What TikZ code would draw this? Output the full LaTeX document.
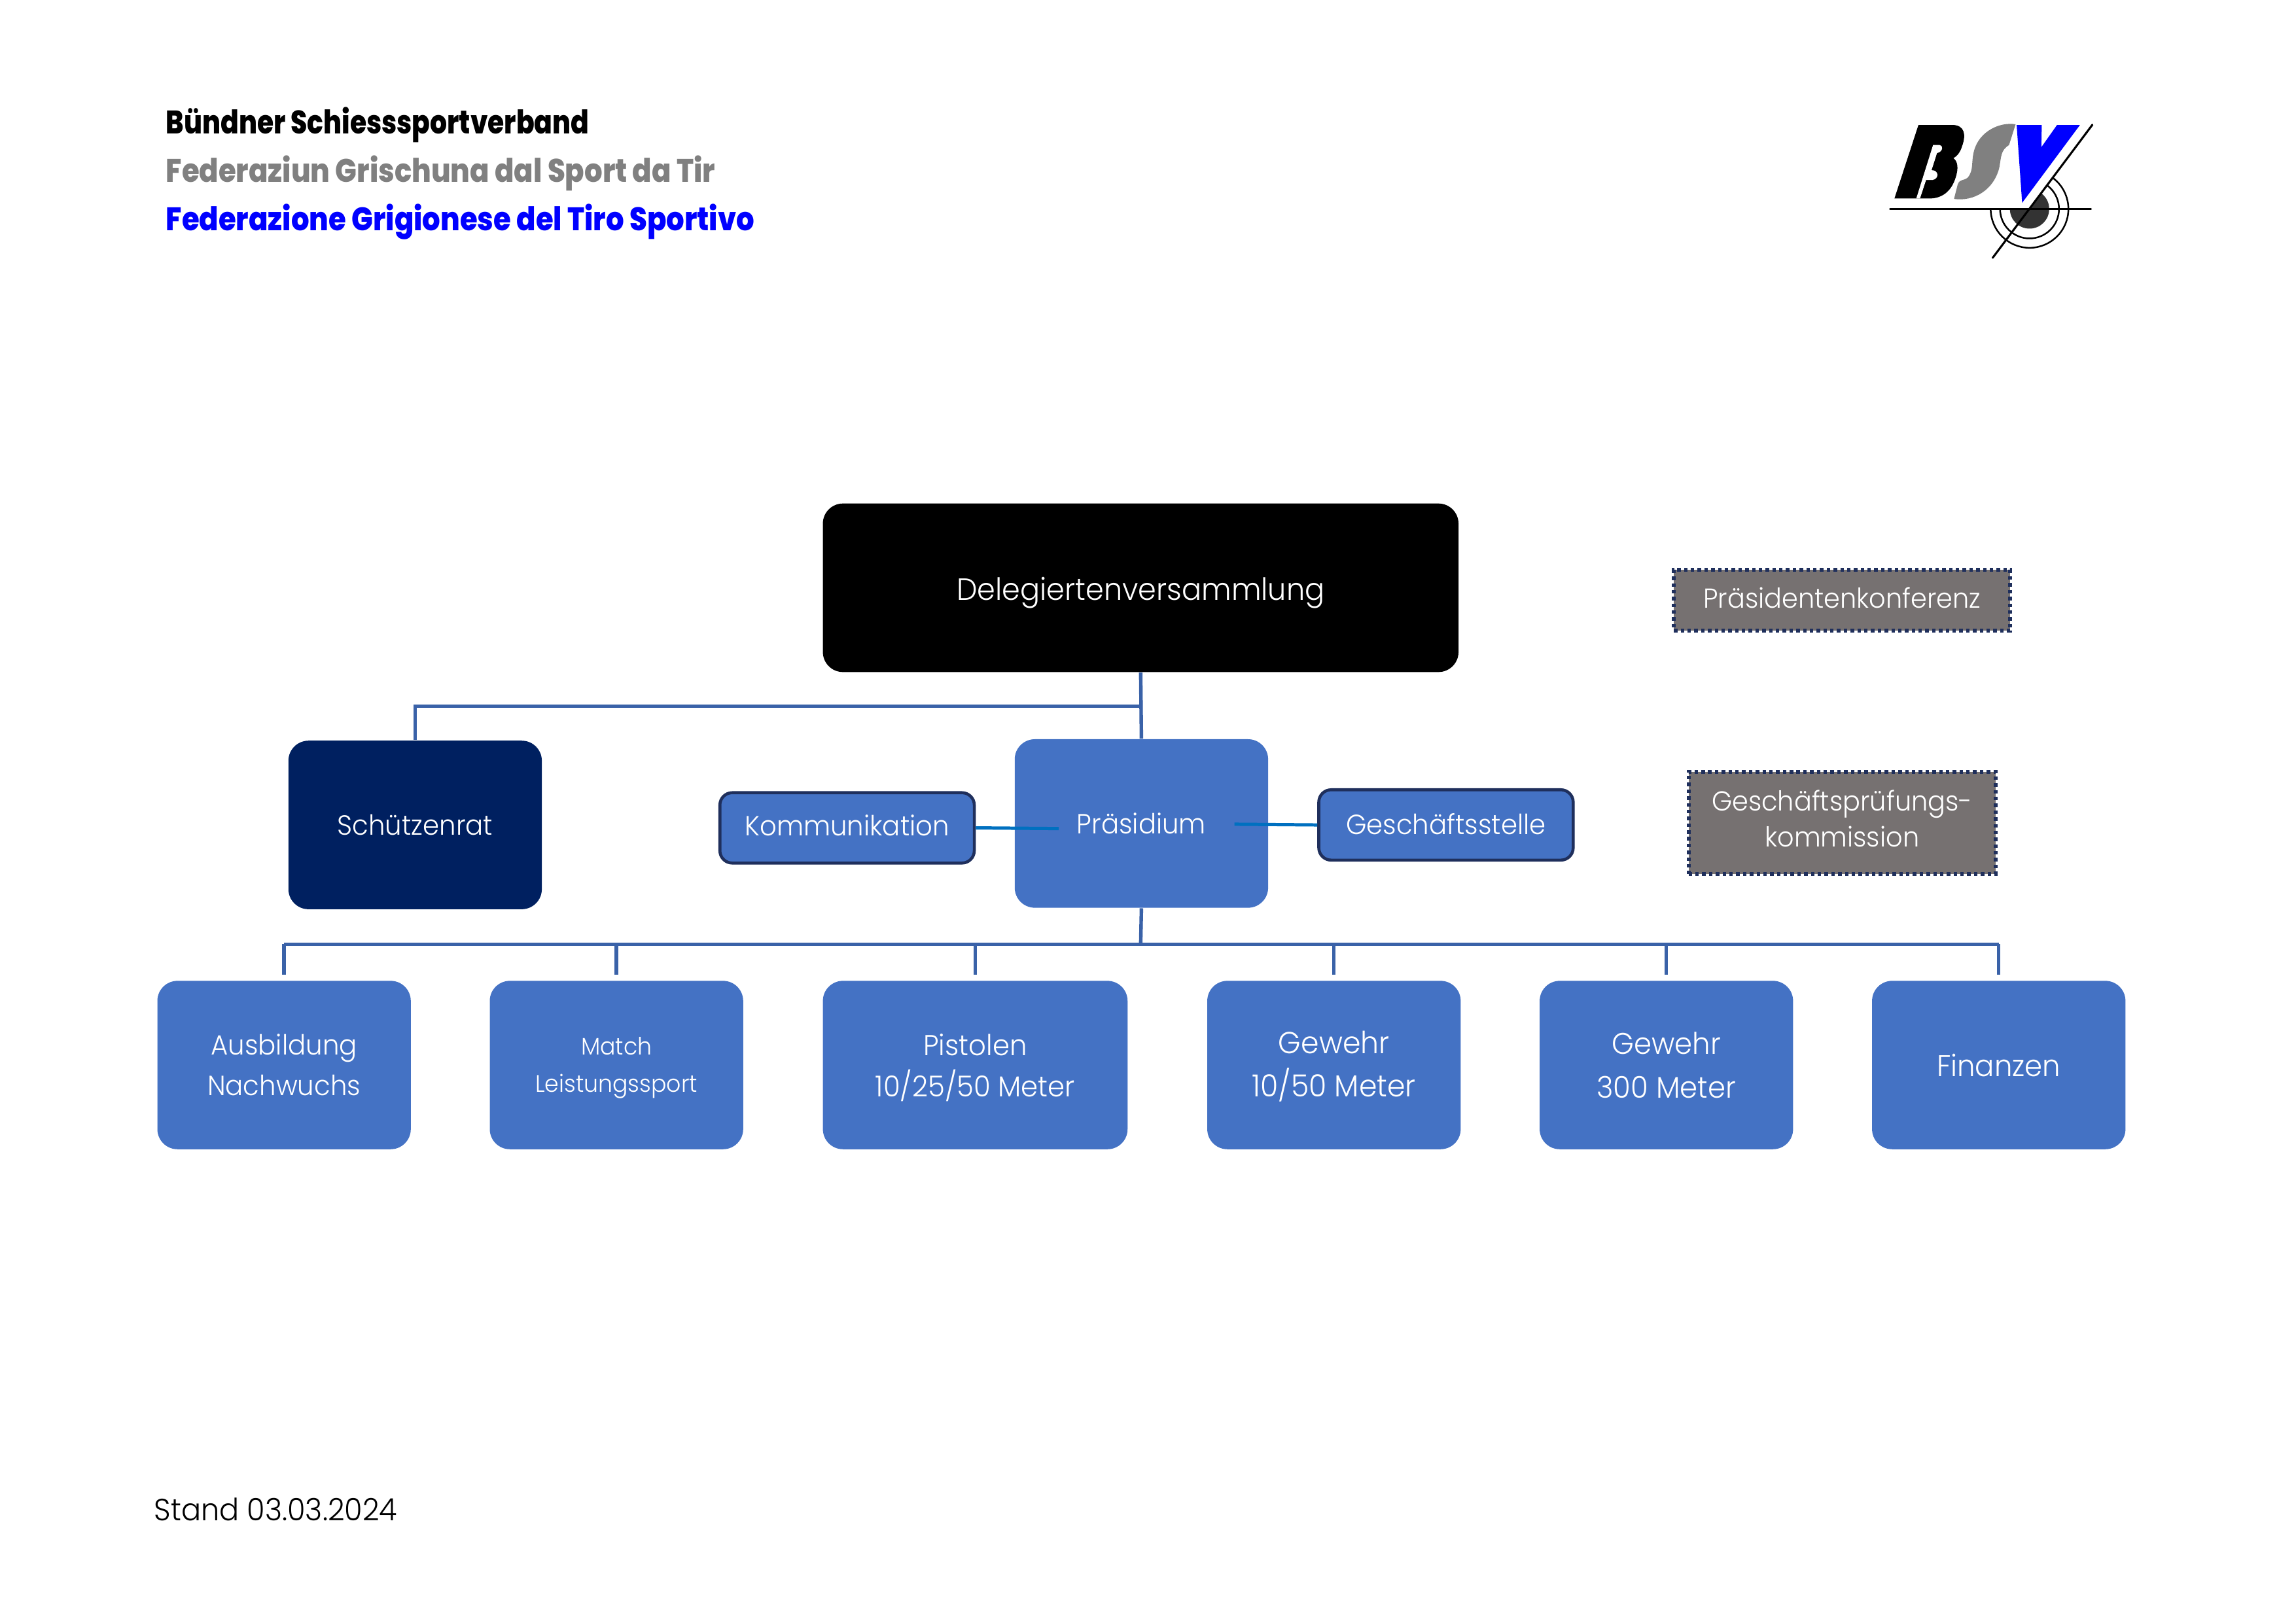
\documentclass[tikz,border=0pt]{standalone}
\usepackage{fontspec}
\setmainfont{Poppins}[UprightFont=* Light,FakeStretch=0.95]
\newfontfamily\headfont{Poppins}[UprightFont=* ExtraBold,FakeStretch=0.87]
\newfontfamily\headnarrow{Poppins}[UprightFont=* ExtraBold,FakeStretch=0.82]
\usetikzlibrary{positioning}

\definecolor{boxblue}{HTML}{4472C4}
\definecolor{navybox}{HTML}{002060}
\definecolor{greybox}{HTML}{767171}
\definecolor{linkblue}{HTML}{3A62A8}
\definecolor{sidelink}{HTML}{0070C0}
\definecolor{edgenavy}{HTML}{1F2F5C}

\begin{document}
\begin{tikzpicture}[x=0.018941cm,y=-0.018941cm,
    main node/.style={draw=none,fill=boxblue,text=white,rounded corners=0.26cm,align=center,inner sep=0pt,font=\fontsize{10.2}{15}\selectfont},
    side node/.style={main node,draw=edgenavy,line width=1.1pt,rounded corners=0.16cm,minimum width=3.29cm,minimum height=0.91cm},
    dot node/.style={main node,fill=greybox,draw=edgenavy,line width=1.4pt,dash pattern=on 1.3pt off 1.2pt,rounded corners=0pt,font=\fontsize{10.1}{13.4}\selectfont},
    unit node/.style={main node,minimum width=3.277cm,minimum height=2.178cm},
    link/.style={draw=linkblue,line width=1.3pt},
    side link/.style={draw=sidelink,line width=1.2pt},
    head/.style={anchor=west,inner sep=0pt,font=\headfont\fontsize{12}{15}\selectfont}]
    \useasboundingbox (0,0) rectangle (1568,1108.6);

    % header
    \node[head,text=black,font=\headnarrow\fontsize{12}{15}\selectfont] (head1) at (113,85.5){Bündner Schiesssportverband};
    \node[head,text=black!50] (head2) at (113,118.5){Federaziun Grischuna dal Sport da Tir};
    \node[head,text=blue] (head3) at (113,151.5){Federazione Grigionese del Tiro Sportivo};

    % logo
    \begin{scope}[shift={(1278.1,71.5)},x=0.002821cm,y=-0.002821cm]
        \fill[black!80] (724,478) circle (90);
        \draw[line width=0.6pt] (724,478) circle (135) (724,478) circle (178);
        \fill[white] (500,478) -- (723,478) -- (860,295) -- (500,295) -- cycle;
        \fill[black] (105,430) -- (215,93) -- (370,93) .. controls (425,93) and (435,135) .. (415,190) .. controls (405,225) and (385,240) .. (375,245) .. controls (395,260) and (400,290) .. (385,335) .. controls (365,400) and (320,430) .. (265,430) -- cycle;
        \fill[white] (205,430) -- (282,185) -- (312,185) .. controls (328,185) and (330,215) .. (300,222) -- (275,300) .. controls (310,300) and (310,340) .. (280,345) -- (250,345) -- (222,430) -- cycle;
        \fill[black!50] (660,90) .. controls (590,78) and (495,120) .. (470,210) .. controls (455,265) and (470,300) .. (440,335) .. controls (420,350) and (405,340) .. (395,365) -- (378,432) .. controls (470,445) and (560,390) .. (585,290) .. controls (595,240) and (590,210) .. (630,185) -- cycle;
        \fill[blue] (665,93) -- (780,93) -- (778,195) -- (850,93) -- (955,93) -- (690,450) -- cycle;
        \draw[line width=0.75pt,line cap=round] (85,478) -- (1005,478);
        \draw[line width=0.75pt,line cap=round] (1012,92) -- (555,702);
    \end{scope}

    % top
    \node[main node,fill=black,minimum width=8.22cm,minimum height=2.18cm,font=\fontsize{11.3}{15}\selectfont,text height=11.6pt,text depth=2.3pt] (dv) at (779,401.5){Delegiertenversammlung};
    \node[main node,fill=navybox,minimum width=3.277cm,minimum height=2.18cm] (rat) at (283.5,563.5){Schützenrat};
    \node[main node,minimum width=3.277cm,minimum height=2.18cm] (pres) at (779.5,562.5){Präsidium};
    \node[side node,text depth=2.1pt] (komm) at (578.5,565.5){Kommunikation};
    \node[side node,text depth=1pt] (gs) at (987.5,563.5){Geschäftsstelle};

    % right
    \node[dot node,minimum width=4.35cm,minimum height=0.79cm,text depth=2.1pt] (konf) at (1258,410){Präsidentenkonferenz};
    \node[dot node,minimum width=3.97cm,minimum height=1.32cm] (gpk) at (1258,562){Geschäftsprüfungs-\\kommission\rule[-3.2pt]{0pt}{0pt}};

    % units
    \node[unit node] (u1) at (194,727.5){Ausbildung\\Nachwuchs};
    \node[unit node,font=\fontsize{8.8}{13.9}\selectfont] (u2) at (421,727.5){\rule{0pt}{8.6pt}Match\\Leistungssport};
    \node[unit node,minimum width=3.94cm,font=\fontsize{10.6}{15}\selectfont] (u3) at (666,727.5){\rule{0pt}{9.9pt}Pistolen\\10/25/50 Meter};
    \node[unit node,font=\fontsize{11.2}{16}\selectfont] (u4) at (911,727.5){\rule{0pt}{9.4pt}Gewehr\\10/50 Meter};
    \node[unit node,font=\fontsize{11}{16}\selectfont] (u5) at (1138,727.5){Gewehr\\300 Meter};
    \node[unit node,font=\fontsize{11}{15}\selectfont] (u6) at (1365,727.5){Finanzen};

    \node[anchor=west,inner sep=0pt,text=black,font=\fontsize{11.3}{15}\selectfont] (stand) at (105,1031){Stand 03.03.2024};

    % connectors
    \coordinate (fork) at (779,482.5);
    \coordinate (bus) at (779,645);
    \coordinate (kommend) at (723,566);
    \coordinate (gsend) at (843,563);
    \draw[link] (dv.south) -- (pres.north);
    \draw[link] (fork) -- (fork -| rat) -- (rat.north);
    \draw[link] (pres.south) -- (bus);
    \draw[link] (bus -| u1) -- (bus -| u6);
    \foreach \unit in {u1,u2,u3,u4,u5,u6}
        \draw[link,shorten >=2pt] (bus -| \unit) -- (\unit.north);
    \draw[side link] (komm.east) -- (kommend);
    \draw[side link] (gs.west) -- (gsend);
\end{tikzpicture}
\end{document}
